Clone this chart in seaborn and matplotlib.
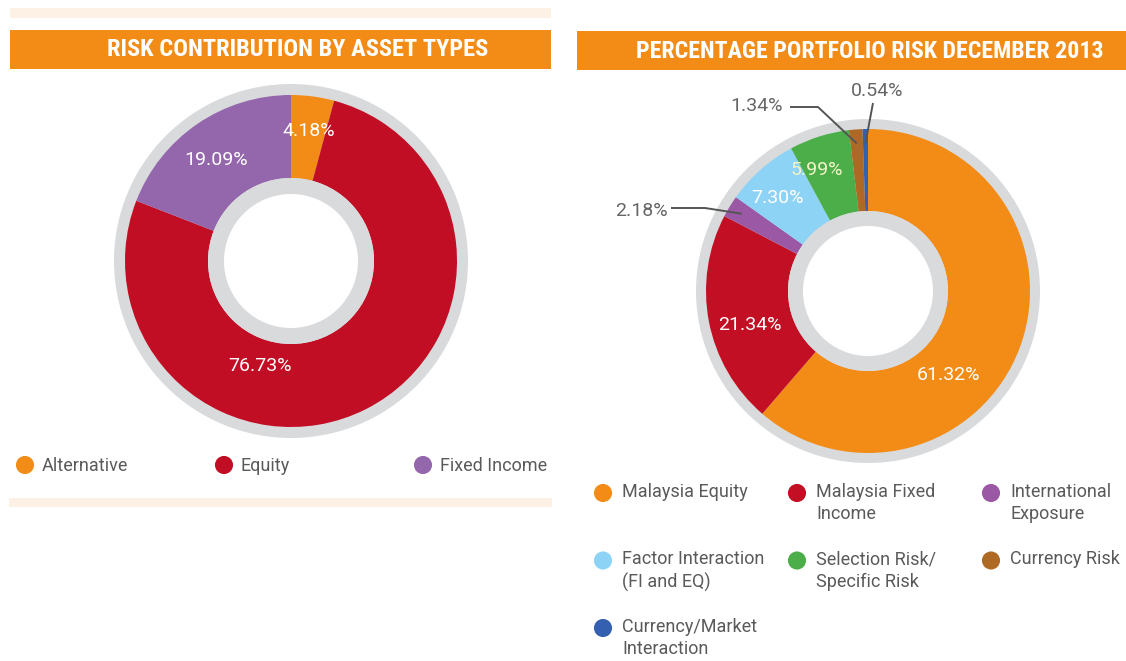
#!/usr/bin/env python3
"""Two donut charts: risk contribution by asset type and portfolio risk, Dec 2013."""

import matplotlib

matplotlib.use("Agg")
import matplotlib.pyplot as plt
import numpy as np
import seaborn as sns
from matplotlib import font_manager
from matplotlib.patches import Circle, Rectangle

# ---- data -------------------------------------------------------------
ASSET_TYPES = ["Alternative", "Equity", "Fixed Income"]
ASSET_RISK = [4.18, 76.73, 19.09]
ASSET_COLORS = ["#F28C16", "#C20E24", "#9467AC"]

RISK_FACTORS = [
    "Malaysia Equity",
    "Malaysia Fixed\nIncome",
    "International\nExposure",
    "Factor Interaction\n(FI and EQ)",
    "Selection Risk/\nSpecific Risk",
    "Currency Risk",
    "Currency/Market\nInteraction",
]
FACTOR_RISK = [61.32, 21.34, 2.18, 7.30, 5.99, 1.34, 0.54]
FACTOR_COLORS = ["#F28C16", "#C30F23", "#9B58A4", "#8DD3F5", "#4BAE49", "#AE6A24", "#3560B0"]

TITLE_LEFT = "RISK CONTRIBUTION BY ASSET TYPES"
TITLE_RIGHT = "PERCENTAGE PORTFOLIO RISK DECEMBER 2013"

# ---- style ------------------------------------------------------------
W, H = 1126, 661
ORANGE = "#F28C16"
PEACH = "#FDF0E4"
RING = "#D9DADC"
TEXT = "#5A5A5A"

sns.set_theme(style="white")
available = {f.name for f in font_manager.fontManager.ttflist}
NARROW = next((f for f in ["Liberation Sans Narrow", "Roboto Condensed", "Roboto"] if f in available), "DejaVu Sans")
BODY = "Roboto" if "Roboto" in available else "DejaVu Sans"
plt.rcParams["font.family"] = [BODY, "DejaVu Sans"]


def donut(ax, values, colors, cx, cy, r_out, r_in, r_ring, r_hole):
    # grey halo, coloured ring, grey inner ring, white hole
    ax.add_patch(Circle((cx, cy), r_ring, color=RING, lw=0, zorder=1))
    ax.pie(
        values,
        colors=sns.color_palette(colors),
        center=(cx, cy),
        radius=r_out,
        startangle=-90,
        counterclock=True,
        wedgeprops=dict(width=r_out - r_in, linewidth=0, zorder=2),
    )
    ax.add_patch(Circle((cx, cy), r_in, color=RING, lw=0, zorder=3))
    ax.add_patch(Circle((cx, cy), r_hole, color="white", lw=0, zorder=4))


def slice_point(values, idx, cx, cy, r):
    # mid-angle of a slice, measured clockwise from 12 o'clock (y axis points down)
    cum = np.cumsum([0] + list(values))
    frac = (cum[idx] + values[idx] / 2) / cum[-1]
    a = 2 * np.pi * frac
    return cx + r * np.sin(a), cy - r * np.cos(a)


fig = plt.figure(figsize=(W / 100, H / 100), dpi=100)
ax = fig.add_axes([0, 0, 1, 1])

# ---- left panel -------------------------------------------------------
lcx, lcy = 291, 261
donut(ax, ASSET_RISK, ASSET_COLORS, lcx, lcy, 166, 83, 177, 67)
left_label_pos = [(309, 131), (260, 366), (216, 160)]
for v, (x, y) in zip(ASSET_RISK, left_label_pos):
    ax.text(x, y, f"{v:.2f}%", color="white", fontsize=14, ha="center", va="center", zorder=5)

for i, (name, col) in enumerate(zip(ASSET_TYPES, ASSET_COLORS)):
    x = 25 + i * 199
    ax.scatter([x], [465], s=170, color=col, edgecolor="none", zorder=5)
    ax.text(x + 17, 466, name, color=TEXT, fontsize=13, ha="left", va="center", zorder=5)

# ---- right panel ------------------------------------------------------
rcx, rcy = 868, 291
donut(ax, FACTOR_RISK, FACTOR_COLORS, rcx, rcy, 162, 80, 172, 65)
inner_labels = {0: (948, 375), 1: (750, 325), 3: (777, 198), 4: (817, 170)}
inner_colors = {4: "#F2F5C8"}
for idx, (x, y) in inner_labels.items():
    ax.text(x, y, f"{FACTOR_RISK[idx]:.2f}%", color=inner_colors.get(idx, "white"), fontsize=14,
            ha="center", va="center", zorder=5)

# outside labels with leader lines: slice index, text pos, alignment, line start, elbow
outer_labels = [
    (2, (668, 211), "right", (671, 208), (705, 208)),
    (5, (783, 106), "right", (790, 107), (818, 107)),
    (6, (877, 91), "center", (873, 103), None),
]
for idx, (tx, ty), ha, start, elbow in outer_labels:
    ax.text(tx, ty, f"{FACTOR_RISK[idx]:.2f}%", color="#666666", fontsize=14, ha=ha, va="center", zorder=5)
    end = slice_point(FACTOR_RISK, idx, rcx, rcy, 148)
    pts = [start] + ([elbow] if elbow else []) + [end]
    ax.plot([p[0] for p in pts], [p[1] for p in pts], color="#555555", lw=1.4, zorder=6,
            solid_capstyle="butt")

for i, (name, col) in enumerate(zip(RISK_FACTORS, FACTOR_COLORS)):
    x = 603 + (i % 3) * 194
    y = 493 + (i // 3) * 67.5
    ax.scatter([x], [y], s=170, color=col, edgecolor="none", zorder=5)
    ax.text(x + 19, y - 10, name, color=TEXT, fontsize=13, ha="left", va="top", linespacing=1.28, zorder=5)

# ---- header bars and strips -------------------------------------------
ax.add_patch(Rectangle((10, 8), 541, 10, color=PEACH, lw=0))
ax.add_patch(Rectangle((9, 498), 543, 9, color=PEACH, lw=0))
ax.add_patch(Rectangle((10, 30), 541, 39, color=ORANGE, lw=0))
ax.add_patch(Rectangle((577, 31), W - 577, 39, color=ORANGE, lw=0))

titles = [
    ax.text(298, 50, TITLE_LEFT, color="white", fontsize=18, fontweight="bold", family=NARROW,
            ha="center", va="center"),
    ax.text(870, 51, TITLE_RIGHT, color="white", fontsize=18, fontweight="bold", family=NARROW,
            ha="center", va="center"),
]

ax.set_xlim(0, W)
ax.set_ylim(H, 0)
ax.set_aspect("equal")
ax.axis("off")

# squeeze header text into the measured widths
fig.canvas.draw()
renderer = fig.canvas.get_renderer()
for t, target in zip(titles, [382, 467]):
    w = t.get_window_extent(renderer).width
    t.set_fontsize(t.get_fontsize() * target / w)

fig.savefig("out.png", dpi=100, facecolor="white")
